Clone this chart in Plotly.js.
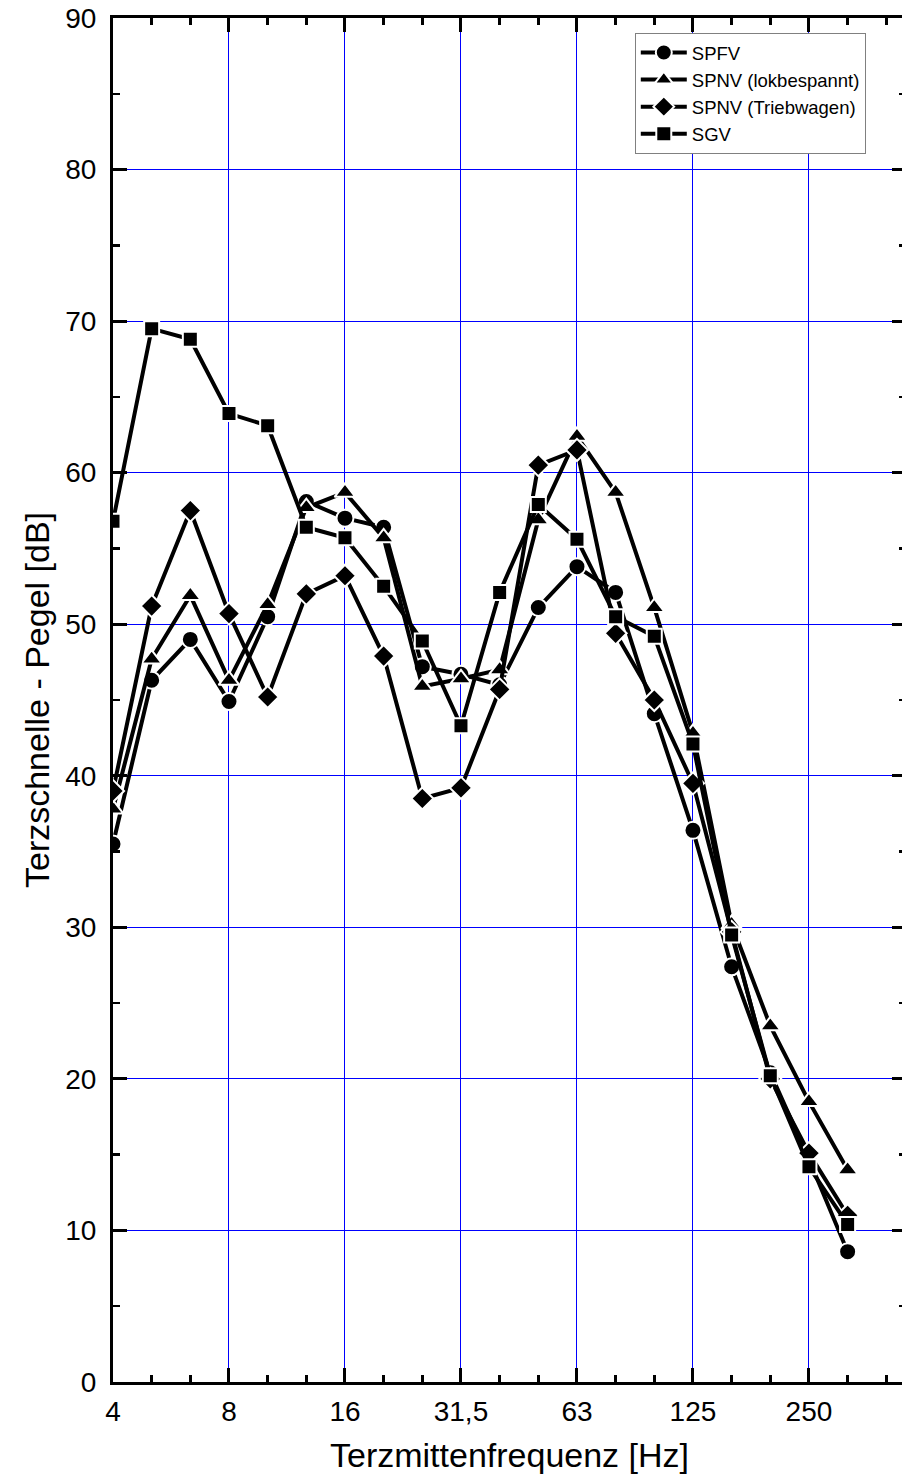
<!DOCTYPE html>
<html>
<head>
<meta charset="utf-8">
<script src="https://cdn.plot.ly/plotly-3.0.1.min.js"></script>
<style>
  html, body { margin: 0; padding: 0; background: #fff; overflow: hidden; }
  #chart { width: 906px; height: 1483px; }
</style>
</head>
<body>
<div id="chart"></div>
<script>
// Terzmittenfrequenzen (third-octave bands) in Hz
const bands = ["4", "5", "6,3", "8", "10", "12,5", "16", "20", "25", "31,5",
               "40", "50", "63", "80", "100", "125", "160", "200", "250", "315"];
// labelled bands on the x axis
const labelledBands = ["4", "8", "16", "31,5", "63", "125", "250"];

// Terzschnelle-Pegel [dB]
const SPFV       = [35.5, 46.3, 49.0, 44.9, 50.5, 58.1, 57.0, 56.4, 47.2, 46.7,
                    46.0, 51.1, 53.8, 52.1, 44.1, 36.4, 27.4, 20.4, 14.7, 8.6];
const SPNV_lok   = [37.8, 47.7, 51.9, 46.3, 51.3, 57.7, 58.7, 55.7, 45.9, 46.4,
                    47.0, 56.9, 62.4, 58.7, 51.1, 42.8, 30.2, 23.5, 18.5, 14.0];
const SPNV_trieb = [39.0, 51.2, 57.5, 50.7, 45.2, 52.0, 53.2, 47.9, 38.5, 39.2,
                    45.7, 60.5, 61.5, 49.4, 45.0, 39.5, 29.7, 20.0, 15.1, 11.0];
const SGV        = [56.8, 69.5, 68.8, 63.9, 63.1, 56.4, 55.7, 52.5, 48.9, 43.3,
                    52.1, 57.9, 55.6, 50.5, 49.2, 42.1, 29.5, 20.2, 14.2, 10.4];

const seriesNames = ["SPFV", "SPNV (lokbespannt)", "SPNV (Triebwagen)", "SGV"];
const seriesData = [SPFV, SPNV_lok, SPNV_trieb, SGV];
const symbols = ["circle", "triangle-up", "diamond", "square"];
const sizes = [17, 18, 17, 15];

const xIdx = bands.map((b, i) => i);

const traces = seriesData.map((ys, k) => ({
  type: "scatter",
  mode: "lines+markers",
  name: seriesNames[k],
  x: xIdx,
  y: ys,
  line: { color: "#000", width: 4 },
  marker: { symbol: symbols[k], size: sizes[k], color: "#000",
            line: { color: "#fff", width: 2 } },
  cliponaxis: true
}));

const font = "Liberation Sans, Arial, sans-serif";

const layout = {
  width: 906,
  height: 1483,
  margin: { l: 113, r: 0, t: 18, b: 101, pad: 0 },
  paper_bgcolor: "#fff",
  plot_bgcolor: "#fff",
  showlegend: true,
  legend: {
    x: 0.658, xanchor: "left",
    y: 0.989, yanchor: "top",
    bgcolor: "#fff",
    bordercolor: "#808080",
    borderwidth: 1,
    itemwidth: 46,
    font: { family: font, size: 18.5, color: "#000" },
    tracegroupgap: 0
  },
  xaxis: {
    range: [0, 20.51],
    tickmode: "array",
    tickvals: labelledBands.map(b => bands.indexOf(b)),
    ticktext: labelledBands,
    ticks: "inside",
    ticklen: 14,
    tickwidth: 3,
    tickcolor: "#000",
    minor: { tickmode: "linear", tick0: 0, dtick: 1, ticks: "inside",
             ticklen: 7, tickwidth: 2.5, tickcolor: "#000", showgrid: false },
    showline: true,
    linecolor: "#000",
    linewidth: 3,
    mirror: "ticks",
    showgrid: true,
    gridcolor: "#0000ff",
    gridwidth: 1,
    zeroline: false,
    ticklabelstandoff: 2,
    tickfont: { family: font, size: 28, color: "#000" },
    title: { text: "Terzmittenfrequenz [Hz]",
             font: { family: font, size: 34, color: "#000" }, standoff: 18 },
    automargin: false
  },
  yaxis: {
    range: [0, 90],
    tickmode: "linear",
    tick0: 0,
    dtick: 10,
    ticks: "inside",
    ticklen: 14,
    tickwidth: 3,
    tickcolor: "#000",
    minor: { tickmode: "linear", tick0: 5, dtick: 10, ticks: "inside",
             ticklen: 7, tickwidth: 2.5, tickcolor: "#000", showgrid: false },
    showline: true,
    linecolor: "#000",
    linewidth: 3,
    mirror: "ticks",
    showgrid: true,
    gridcolor: "#0000ff",
    gridwidth: 1,
    zeroline: false,
    ticklabelstandoff: 8,
    tickfont: { family: font, size: 28, color: "#000" },
    title: { text: "Terzschnelle - Pegel [dB]",
             font: { family: font, size: 34, color: "#000" }, standoff: 6 },
    automargin: false
  }
};

Plotly.newPlot("chart", traces, layout, { displayModeBar: false, staticPlot: true });
</script>
</body>
</html>
